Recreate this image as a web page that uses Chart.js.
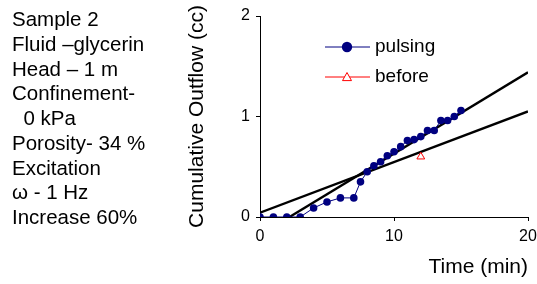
<!DOCTYPE html>
<html>
<head>
<meta charset="utf-8">
<script src="https://cdn.jsdelivr.net/npm/chart.js@4"></script>
<style>
  body { margin: 0; background: #fff; }
  #wrap { position: relative; width: 537px; height: 284px; }
  #notes {
    position: absolute; left: 12px; top: 7px;
    font: 20.5px "Liberation Sans", Arial, sans-serif; line-height: 24.75px; color: #000;
    white-space: pre;
  }
</style>
</head>
<body>
<div id="wrap">
  <canvas id="chart"></canvas>
  <div id="notes">Sample 2
Fluid –glycerin
Head – 1 m
Confinement-
  0 kPa
Porosity- 34 %
Excitation
ω - 1 Hz
Increase 60%</div>
</div>
<script>
// pulsing series (time in min, outflow in cc)
const timePulsing = [0, 1, 2, 3, 4, 5, 6, 7, 7.5, 8, 8.5, 9, 9.5, 10, 10.5, 11, 11.5, 12, 12.5, 13, 13.5, 14, 14.5, 15];
const flowPulsing = [0, 0, 0, 0, 0.09, 0.15, 0.19, 0.19, 0.35, 0.45, 0.51, 0.55, 0.61, 0.65, 0.70, 0.76, 0.77, 0.80, 0.86, 0.86, 0.96, 0.96, 1.00, 1.06];

// before excitation
const timeBefore = [12];
const flowBefore = [0.6];

// fitted trend lines
const fitLowX = [0, 20];
const fitLowY = [0.043, 1.05];
const fitHighX = [2.2, 20];
const fitHighY = [0, 1.44];

const xTicks = [0, 10, 20];
const yTicks = [0, 1, 2];

const toPts = (xs, ys) => xs.map((x, i) => ({ x, y: ys[i] }));
const FONT = '"Liberation Sans", Arial, sans-serif';

// legend drawn at the spot used in the original figure
const legendPlugin = {
  id: 'fixedLegend',
  afterDraw(chart) {
    const ctx = chart.ctx;
    const items = [
      { ds: chart.data.datasets[0], y: 47, r: 5.2 },
      { ds: chart.data.datasets[1], y: 77, r: 4.5 }
    ];
    ctx.save();
    items.forEach(({ ds, y, r }) => {
      ctx.strokeStyle = ds.borderColor;
      ctx.lineWidth = 1;
      ctx.beginPath();
      ctx.moveTo(325, y);
      ctx.lineTo(370, y);
      ctx.stroke();
      ctx.fillStyle = ds.pointBackgroundColor;
      ctx.strokeStyle = ds.pointBorderColor;
      ctx.lineWidth = ds.pointBorderWidth;
      ctx.beginPath();
      if (ds.pointStyle === 'circle') {
        ctx.arc(347, y, r, 0, Math.PI * 2);
        ctx.fill();
      } else {
        ctx.moveTo(347, y - r);
        ctx.lineTo(347 + r, y + r * 0.8);
        ctx.lineTo(347 - r, y + r * 0.8);
        ctx.closePath();
        ctx.fill();
        ctx.stroke();
      }
      ctx.fillStyle = '#000';
      ctx.font = '19px ' + FONT;
      ctx.textBaseline = 'middle';
      ctx.textAlign = 'left';
      ctx.fillText(ds.label, 375, y);
    });
    ctx.restore();
  }
};

new Chart(document.getElementById('chart'), {
  type: 'scatter',
  data: {
    datasets: [
      {
        label: 'pulsing',
        data: toPts(timePulsing, flowPulsing),
        showLine: true,
        borderColor: '#000080',
        borderWidth: 1,
        pointStyle: 'circle',
        pointRadius: 3.8,
        pointBackgroundColor: '#000080',
        pointBorderColor: '#000080',
        pointBorderWidth: 0
      },
      {
        label: 'before',
        data: toPts(timeBefore, flowBefore),
        showLine: false,
        borderColor: '#ff0000',
        pointStyle: 'triangle',
        pointRadius: 4.5,
        pointBackgroundColor: '#ffffff',
        pointBorderColor: '#ff0000',
        pointBorderWidth: 1
      },
      {
        label: 'fit1',
        data: toPts(fitLowX, fitLowY),
        showLine: true,
        borderColor: '#000',
        borderWidth: 2.4,
        pointRadius: 0
      },
      {
        label: 'fit2',
        data: toPts(fitHighX, fitHighY),
        showLine: true,
        borderColor: '#000',
        borderWidth: 2.4,
        pointRadius: 0
      }
    ]
  },
  options: {
    responsive: true,
    maintainAspectRatio: false,
    animation: false,
    layout: { padding: { left: 175, top: 16, right: 0, bottom: 0 } },
    plugins: { legend: { display: false }, tooltip: { enabled: false } },
    scales: {
      x: {
        type: 'linear',
        min: 0, max: 20,
        afterBuildTicks: s => { s.ticks = xTicks.map(v => ({ value: v })); },
        afterFit: s => { s.height = 67; s.paddingRight = 9; s.paddingLeft = 0; },
        grid: { drawOnChartArea: false, drawTicks: true, tickLength: 4, color: '#000' },
        border: { color: '#000', width: 1 },
        ticks: { color: '#000', padding: 6, font: { family: FONT, size: 16 } },
        title: {
          display: true, text: 'Time (min)', align: 'end', color: '#000',
          font: { family: FONT, size: 21 }, padding: { top: 0, bottom: 4 }
        }
      },
      y: {
        type: 'linear',
        min: 0, max: 2,
        afterBuildTicks: s => { s.ticks = yTicks.map(v => ({ value: v })); },
        afterFit: s => { s.width = 85; },
        grid: { drawOnChartArea: false, drawTicks: true, tickLength: 4, color: '#000' },
        border: { color: '#000', width: 1 },
        ticks: { color: '#000', padding: 6, font: { family: FONT, size: 16 } },
        title: {
          display: true, text: 'Cumulative Outflow (cc)', color: '#000',
          font: { family: FONT, size: 21 }, padding: { top: 10, bottom: 0 }
        }
      }
    }
  },
  plugins: [legendPlugin]
});
</script>
</body>
</html>
